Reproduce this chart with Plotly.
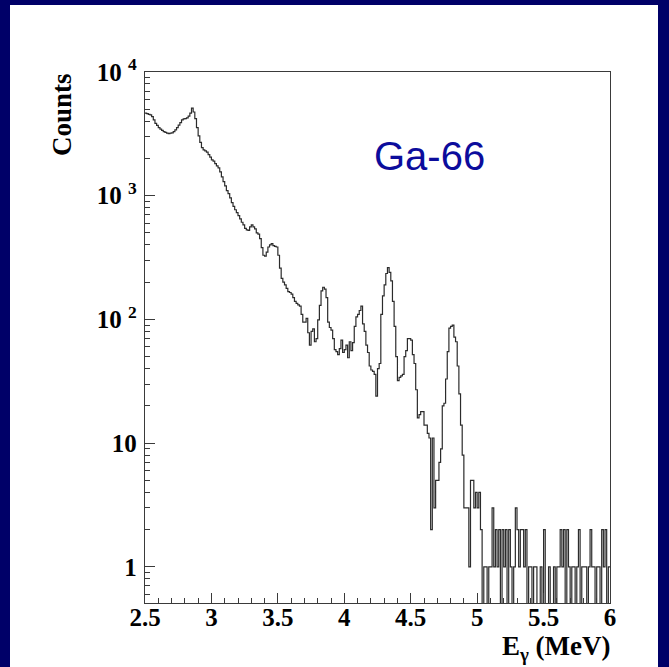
import numpy as np
import plotly.graph_objects as go

# Gamma-ray spectrum, Ga-66 source: counts per 12.5 keV bin from 2.5 to 6.0 MeV
E_LOW, E_HIGH, BIN_WIDTH = 2.5, 6.0, 0.0125

counts_2p5_3p0 = [
    4650, 4600, 4550, 4500, 4350, 4100, 3850, 3700,   # 2.5
    3550, 3450, 3380, 3300, 3250, 3200, 3180, 3200,   # 2.6
    3220, 3300, 3400, 3550, 3720, 3900, 4100, 4180,   # 2.7
    4200, 4250, 4400, 4650, 5100, 4750, 4200, 3550,   # 2.8
    3050, 2700, 2450, 2350, 2300, 2250, 2150, 2050,   # 2.9
]
counts_3p0_3p5 = [
    1950, 1900, 1820, 1740, 1680, 1560, 1420, 1300,   # 3.0
    1200, 1100, 1040, 960, 880, 820, 770, 730,        # 3.1
    690, 650, 610, 580, 545, 530, 525, 560,           # 3.2
    580, 560, 540, 500, 490, 450, 380, 330,           # 3.3
    325, 350, 385, 400, 410, 395, 390, 385,           # 3.4
]
counts_3p5_4p0 = [
    330, 260, 215, 200, 190, 178, 168, 165,           # 3.5
    160, 150, 140, 135, 131, 128, 110, 95,            # 3.6
    95, 102, 78, 62, 80, 84, 66, 70,                  # 3.7
    99, 130, 170, 182, 176, 150, 95, 86,              # 3.8
    82, 70, 57, 55, 52, 58, 68, 54,                   # 3.9
]
counts_4p0_4p5 = [
    57, 62, 49, 66, 56, 65, 88, 105,                  # 4.0
    110, 118, 128, 92, 80, 62, 54, 42,                # 4.1
    39, 38, 36, 24, 40, 44, 110, 155,                 # 4.2
    190, 235, 262, 240, 205, 140, 88, 50,             # 4.3
    32, 34, 35, 36, 50, 56, 70, 70,                   # 4.4
]
counts_4p5_5p0 = [
    68, 52, 44, 27, 16, 17, 18, 18,                   # 4.5
    14, 14, 12, 11, 2, 11, 3, 5,                      # 4.6
    5, 7, 9, 20, 21, 33, 55, 85,                      # 4.7
    88, 90, 72, 66, 42, 25, 14, 8,                    # 4.8
    3, 3, 3, 1, 5, 5, 3, 4,                           # 4.9
]
counts_5p0_6p0 = [
    3, 4, 2, 0, 1, 1, 0, 1,                           # 5.0
    1, 3, 1, 2, 1, 2, 0, 2,                           # 5.1
    1, 2, 0, 2, 1, 0, 1, 3,                           # 5.2
    2, 1, 2, 2, 1, 2, 0, 1,                           # 5.3
    1, 0, 1, 1, 0, 0, 1, 0,                           # 5.4
    2, 0, 0, 1, 0, 0, 1, 0,                           # 5.5
    1, 1, 2, 1, 2, 0, 2, 1,                           # 5.6
    0, 1, 1, 0, 1, 2, 0, 1,                           # 5.7
    1, 1, 0, 1, 2, 1, 1, 0,                           # 5.8
    1, 1, 0, 2, 1, 2, 0, 1,                           # 5.9
]

counts = (counts_2p5_3p0 + counts_3p0_3p5 + counts_3p5_4p0
          + counts_4p0_4p5 + counts_4p5_5p0 + counts_5p0_6p0)

y_tick_vals = [1, 10, 100, 1000, 10000]
y_tick_text = ["1", "10", "10 <sup>2</sup>", "10 <sup>3</sup>", "10 <sup>4</sup>"]
x_tick_vals = [2.5, 3, 3.5, 4, 4.5, 5, 5.5, 6]
x_tick_text = ["2.5", "3", "3.5", "4", "4.5", "5", "5.5", "6"]

n_bins = len(counts)
edges = E_LOW + BIN_WIDTH * np.arange(n_bins + 1)

# empty bins sit below the log axis floor so the step drops to the frame
Y_MIN = 0.51
floor = 0.2
c = np.array(counts, dtype=float)
c_plot = np.where(c > 0, c, floor)
x_step = np.append(edges[:-1], edges[-1])
y_step = np.append(c_plot, c_plot[-1])

W, H = 669, 667
L, R, T, B = 145, 59, 72, 64
pw, ph = W - L - R, H - T - B

def px(xp):
    return (xp - L) / pw

def py(yp):
    return (H - B - yp) / ph

AXIS_COL = "#3a3a3a"
serif = "Liberation Serif"
TICK_FONT = dict(family=serif, size=25, color="black", weight="bold")

fig = go.Figure()
fig.add_trace(go.Scatter(
    x=x_step, y=y_step, mode="lines",
    line=dict(shape="hv", color="#2b2b2b", width=1.2),
    hoverinfo="skip", showlegend=False,
))

minor_y = [m * 10 ** d for d in range(-1, 4) for m in range(2, 10)
           if Y_MIN < m * 10 ** d < 10000]

fig.update_layout(
    width=W, height=H,
    margin=dict(l=L, r=R, t=T, b=B),
    paper_bgcolor="#000068",
    plot_bgcolor="white",
    showlegend=False,
    xaxis=dict(
        range=[E_LOW, E_HIGH], tickmode="array",
        tickvals=x_tick_vals, ticktext=x_tick_text,
        ticks="inside", ticklen=10, tickwidth=1.2, tickcolor=AXIS_COL,
        minor=dict(dtick=0.1, tick0=2.5, ticks="inside", ticklen=5,
                   tickwidth=1.1, tickcolor=AXIS_COL, showgrid=False),
        showline=True, linecolor=AXIS_COL, linewidth=1.4, mirror=True,
        showgrid=False, zeroline=False,
        tickfont=TICK_FONT,
        ticklabelstandoff=-8,
    ),
    yaxis=dict(
        type="log", range=[np.log10(Y_MIN), 4], tickmode="array",
        tickvals=y_tick_vals, ticktext=y_tick_text,
        ticks="inside", ticklen=10, tickwidth=1.2, tickcolor=AXIS_COL,
        minor=dict(tickmode="array", tickvals=minor_y, ticks="inside",
                   ticklen=5, tickwidth=1.1, tickcolor=AXIS_COL,
                   showgrid=False),
        showline=True, linecolor=AXIS_COL, linewidth=1.4, mirror=True,
        showgrid=False, zeroline=False,
        tickfont=TICK_FONT,
        ticklabelstandoff=2,
    ),
    shapes=[dict(
        type="rect", xref="paper", yref="paper", layer="below",
        x0=px(10), x1=px(658), y0=py(667), y1=py(5),
        fillcolor="white", line=dict(width=0),
    )],
    annotations=[
        dict(text="Counts", xref="paper", yref="paper",
             x=px(62), y=py(115), xanchor="center", yanchor="middle",
             textangle=-90, showarrow=False,
             font=dict(family=serif, size=27, color="black", weight="bold")),
        dict(text="E<sub>γ</sub> (MeV)", xref="paper", yref="paper",
             x=px(613), y=py(648), xanchor="right", yanchor="middle",
             showarrow=False,
             font=dict(family=serif, size=27, color="black", weight="bold")),
        dict(text="Ga-66", xref="paper", yref="paper",
             x=px(429), y=py(156), xanchor="center", yanchor="middle",
             showarrow=False,
             font=dict(family="Liberation Sans", size=40, color="#0c0c9c")),
    ],
)

fig.write_html("out.html")
